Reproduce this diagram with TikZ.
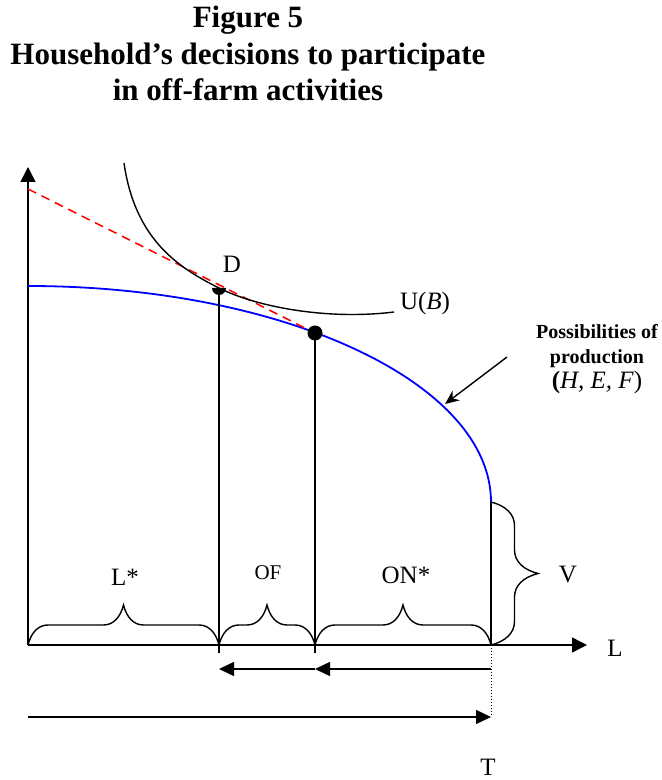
\documentclass[tikz,border=0pt]{standalone}
\usepackage{fontspec}
\setmainfont{Liberation Serif}
\usetikzlibrary{arrows.meta,decorations.pathreplacing,positioning}

\begin{document}
\begin{tikzpicture}[x=1pt,y=1pt,
  axis/.style={line width=1.4pt,-{Triangle[length=15pt,width=15pt]}},
  arr/.style={line width=1.4pt,-{Triangle[length=15pt,width=14pt]}},
  guide/.style={line width=1.4pt},
  budget/.style={red,line width=1.5pt,dash pattern=on 9pt off 6pt},
  frontier/.style={blue,line width=1.8pt},
  brc/.style={line width=1.4pt,decorate,decoration={brace,amplitude=20pt,transform={yscale=2}}},
  lbl/.style={font=\fontsize{25}{28}\selectfont,inner sep=0pt},
  dot/.style={circle,fill,inner sep=0pt,minimum size=15pt},
]
\useasboundingbox (0,0) rectangle (662,780);

% title
\node[anchor=north,align=center,inner sep=0pt,font=\fontsize{31}{36.5}\selectfont\bfseries] (title) at (248,774)
  {Figure 5\\Household's decisions to participate\\in off-farm activities};

% points
\coordinate (O) at (28,135);
\coordinate (ytop) at (28,613);
\coordinate (xend) at (587,135);
\coordinate (Dx) at (219,135);
\coordinate (Ex) at (315,135);
\coordinate (T) at (491,135);
\coordinate (Vtop) at (491,278);
\coordinate (ppf) at (28,494);
\coordinate (ystart) at (28,591);
\coordinate (D) at (219,492);
\coordinate (E) at (315,447);
\coordinate (Dfoot) at (219,127);
\coordinate (Efoot) at (315,127);
\coordinate (Tlow) at (491,63);
\coordinate (Olow) at (28,63);
\coordinate (Trow) at (491,111);
\coordinate (Erow) at (315,111);
\coordinate (Drow) at (219,111);
\coordinate (utop) at (124,617);
\coordinate (uend) at (394,468);
\coordinate (ptail) at (507,423);
\coordinate (phead) at (445,376);

% axes
\draw[axis] (O) -- (ytop);
\draw[axis] (O) -- (xend);

% production frontier and budget line
\draw[frontier] (ppf) arc[start angle=90,end angle=0,x radius=463,y radius=216];
\draw[budget] (ystart) -- (E);

% indifference curve
\fill (D) ++(-7,0) arc[start angle=180,end angle=360,radius=7];
\draw[guide] (utop) .. controls (135,540) and (179,512) .. (D)
  .. controls (259,472) and (330,460) .. (uend);
\node[dot] (Edot) at (E) {};

% verticals
\draw[guide] (D) -- (Dfoot);
\draw[guide] (Edot.center) -- (Efoot);
\draw[guide] (Vtop) -- (T);
\draw[dotted,line width=1pt] (T) -- (Tlow);

% arrows under the axis
\draw[arr] (Trow) -- (Erow);
\draw[arr] (Erow) -- (Drow);
\draw[arr] (Olow) -- (Tlow);

% braces
\draw[brc] (O) -- (Dx);
\draw[brc] (Dx) -- (Ex);
\draw[brc] (Ex) -- (T);
\draw[brc,decoration={amplitude=23.5pt}] (Vtop) -- (T);

% labels
\node[lbl] (Dlab) at (232,516) {D};
\node[lbl] (Ulab) at (425,477) {U(\textit{B})};
\node[lbl] (Lstar) at (125,203) {L*};
\node[lbl,font=\fontsize{21}{24}\selectfont] (OFlab) at (268,207) {OF};
\node[lbl] (ONlab) at (406,205) {ON*};
\node[lbl] (Vlab) at (568,205) {V};
\node[lbl] (Llab) at (615,132) {L};
\node[lbl] (Tlab) at (488,13) {T};

\node[anchor=north,align=center,inner sep=0pt,font=\fontsize{20}{25}\selectfont\bfseries] (possib) at (597,456)
  {Possibilities of\\production\\{\fontsize{25}{27}\selectfont\textbf{(}\mdseries\textit{H, E, F})}};
\draw[line width=1.4pt,-{Stealth[length=14pt,width=12pt]}] (ptail) -- (phead);

\end{tikzpicture}
\end{document}
